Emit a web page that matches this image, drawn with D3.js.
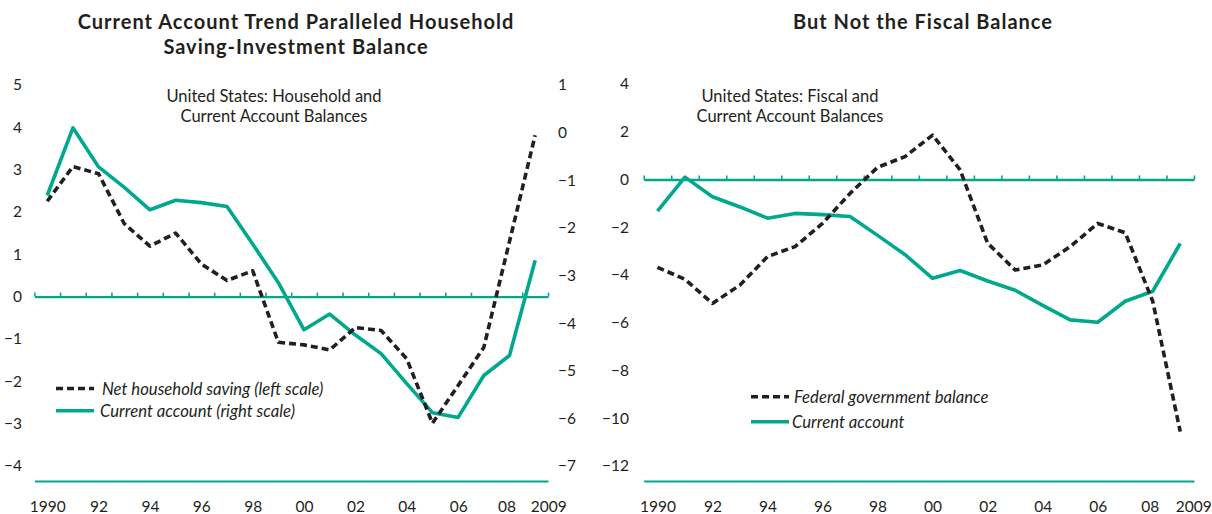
<!DOCTYPE html>
<html>
<head>
<meta charset="utf-8">
<script src="https://cdn.jsdelivr.net/npm/d3@7"></script>
<style>
  body { margin: 0; background: #fff; }
  svg { display: block; font-family: Lato, "Open Sans", sans-serif; }
</style>
</head>
<body>
<div id="chart"></div>
<script>
// Data (percent of GDP)
const years = [1990, 1991, 1992, 1993, 1994, 1995, 1996, 1997, 1998, 1999,
               2000, 2001, 2002, 2003, 2004, 2005, 2006, 2007, 2008, 2009];
const yearLabels = ["1990", "", "92", "", "94", "", "96", "", "98", "",
                    "00", "", "02", "", "04", "", "06", "", "08", "2009"];

const householdSaving = [2.25, 3.07, 2.9, 1.72, 1.19, 1.5, 0.77, 0.38, 0.61, -1.08,
                         -1.14, -1.26, -0.73, -0.8, -1.47, -2.99, -2.1, -1.2, 1.3, 3.81];
const currentAccount = [-1.32, 0.1, -0.72, -1.15, -1.62, -1.42, -1.47, -1.55, -2.34, -3.15,
                        -4.14, -3.81, -4.25, -4.64, -5.27, -5.88, -5.98, -5.1, -4.68, -2.68];
const federalBalance = [-3.68, -4.18, -5.19, -4.42, -3.23, -2.81, -1.84, -0.58, 0.51, 0.96,
                        1.86, 0.4, -2.67, -3.79, -3.58, -2.81, -1.84, -2.23, -5.1, -10.56];

const leftTicks = [-4, -3, -2, -1, 0, 1, 2, 3, 4, 5];
const rightTicks = [-7, -6, -5, -4, -3, -2, -1, 0, 1];
const fiscalTicks = [-12, -10, -8, -6, -4, -2, 0, 2, 4];

// Global const
const W = 1212, H = 514;
const teal = "#00a88f";
const dark = "#231f20";
const dash = "7,4";

let svg = d3.select("#chart")
  .append("svg")
    .attr("width", W)
    .attr("height", H);

// Scales
let xLeft = d3.scaleLinear().domain([1989.5, 2009.5]).range([34.4, 548]);
let xRight = d3.scaleLinear().domain([1989.5, 2009.5]).range([643.7, 1194]);
let yHouse = d3.scaleLinear().domain([-4, 5]).range([466, 84.8]);
let yCA = d3.scaleLinear().domain([-7, 1]).range([466, 85]);
let yFiscal = d3.scaleLinear().domain([-12, 4]).range([466, 84]);

let boundaries = years.map(d => d - 0.5).concat([years[years.length - 1] + 0.5]);

function styleText(g, size) {
  g.selectAll("text")
    .attr("fill", "#231f20")
    .style("font-size", size + "px")
    .style("font-family", "Lato, 'Open Sans', sans-serif");
  g.attr("font-family", null).attr("font-size", null);
}

// Bottom line with year labels
function drawXAxis(x) {
  let g = svg.append("g")
    .attr("transform", "translate(0,481)")
    .call(d3.axisBottom(x)
      .tickValues(years)
      .tickSize(0)
      .tickSizeOuter(0)
      .tickPadding(20)
      .tickFormat((d, i) => yearLabels[i]));
  g.select(".domain").attr("stroke", teal).attr("stroke-width", 2.2);
  g.selectAll(".tick text")
    .attr("dx", d => d === 2009 ? 13 : (d === 2008 ? -3 : 0));
  styleText(g, 15.5);
}

// Zero line with small tick marks
function drawZero(x, y0) {
  let g = svg.append("g")
    .attr("transform", "translate(0," + y0 + ")")
    .call(d3.axisTop(x)
      .tickValues(boundaries)
      .tickSize(4)
      .tickSizeOuter(0)
      .tickFormat(""));
  g.select(".domain").attr("stroke", teal).attr("stroke-width", 2.4);
  g.selectAll(".tick line").attr("stroke", teal).attr("stroke-width", 1.6);
}

function drawLine(x, y, values, color, dashed) {
  let line = d3.line()
    .x((d, i) => x(years[i]))
    .y(d => y(d));
  svg.append("path")
    .datum(values)
    .attr("fill", "none")
    .attr("stroke", color)
    .attr("stroke-width", 3.6)
    .attr("stroke-linejoin", "round")
    .attr("stroke-dasharray", dashed ? dash : null)
    .attr("d", line);
}

function legendItem(x0, x1, y, label, color, dashed, textX) {
  svg.append("line")
    .attr("x1", x0).attr("x2", x1)
    .attr("y1", y).attr("y2", y)
    .attr("stroke", color)
    .attr("stroke-width", 3.6)
    .attr("stroke-dasharray", dashed ? dash : null);
  svg.append("text")
    .attr("x", textX)
    .attr("y", y + 6)
    .attr("fill", "#231f20")
    .style("font-size", "16.7px")
    .style("font-style", "italic")
    .text(label);
}

function title(lines, cx) {
  lines.forEach((t, i) => {
    svg.append("text")
      .attr("x", cx)
      .attr("y", 29 + i * 24.5)
      .attr("text-anchor", "middle")
      .attr("fill", "#231f20")
      .style("font-size", "20px")
      .style("letter-spacing", "1px")
      .style("font-weight", "bold")
      .text(t);
  });
}

function subtitle(lines, cx) {
  lines.forEach((t, i) => {
    svg.append("text")
      .attr("x", cx)
      .attr("y", 101.5 + i * 20.5)
      .attr("text-anchor", "middle")
      .attr("fill", "#231f20")
      .style("font-size", "16.5px")
      .text(t);
  });
}

// ---------- Left panel ----------
title(["Current Account Trend Paralleled Household", "Saving-Investment Balance"], 296);
subtitle(["United States: Household and", "Current Account Balances"], 274);

let gl = svg.append("g")
  .attr("transform", "translate(22,0)")
  .call(d3.axisLeft(yHouse).tickValues(leftTicks).tickSize(0).tickPadding(0));
gl.select(".domain").remove();
styleText(gl, 15.5);

let gr = svg.append("g")
  .attr("transform", "translate(558,0)")
  .call(d3.axisRight(yCA).tickValues(rightTicks).tickSize(0).tickPadding(0));
gr.select(".domain").remove();
styleText(gr, 15.5);

drawZero(xLeft, yHouse(0));
drawXAxis(xLeft);
drawLine(xLeft, yCA, currentAccount, teal, false);
drawLine(xLeft, yHouse, householdSaving, dark, true);

legendItem(56, 94, 388.5, "Net household saving (left scale)", dark, true, 102);
legendItem(56, 94, 410.7, "Current account (right scale)", teal, false, 100);

// ---------- Right panel ----------
title(["But Not the Fiscal Balance"], 923);
subtitle(["United States: Fiscal and", "Current Account Balances"], 790);

let gf = svg.append("g")
  .attr("transform", "translate(629,0)")
  .call(d3.axisLeft(yFiscal).tickValues(fiscalTicks).tickSize(0).tickPadding(0));
gf.select(".domain").remove();
styleText(gf, 15.5);

drawZero(xRight, yFiscal(0));
drawXAxis(xRight);
drawLine(xRight, yFiscal, currentAccount, teal, false);
drawLine(xRight, yFiscal, federalBalance, dark, true);

legendItem(751, 789, 396.7, "Federal government balance", dark, true, 794);
legendItem(751, 789, 421.7, "Current account", teal, false, 792);
</script>
</body>
</html>
